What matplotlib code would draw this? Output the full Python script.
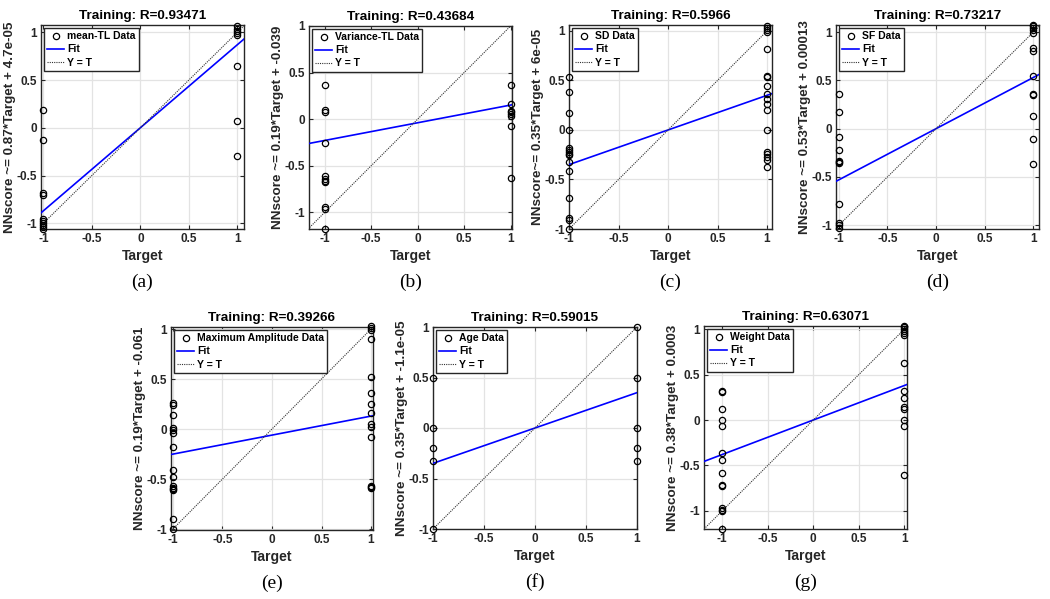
import matplotlib
matplotlib.use("Agg")
import matplotlib.pyplot as plt
import numpy as np

# ---------------- data ----------------
panel_labels = ["(a)", "(b)", "(c)", "(d)", "(e)", "(f)", "(g)"]
titles = ["Training: R=0.93471", "Training: R=0.43684", "Training: R=0.5966",
          "Training: R=0.73217", "Training: R=0.39266", "Training: R=0.59015",
          "Training: R=0.63071"]
ylabels = ["NNscore ~= 0.87*Target + 4.7e-05",
           "NNscore ~= 0.19*Target + -0.039",
           "NNscore~= 0.35*Target + 6e-05",
           "NNscore ~= 0.53*Target + 0.00013",
           "NNscore ~= 0.19*Target + -0.061",
           "NNscore ~= 0.35*Target + -1.1e-05",
           "NNscore ~= 0.38*Target + 0.0003"]
data_names = ["mean-TL Data", "Variance-TL Data", "SD Data", "SF Data",
              "Maximum Amplitude Data", "Age Data", "Weight Data"]
slopes = [0.87, 0.19, 0.35, 0.53, 0.19, 0.35, 0.38]
intercepts = [4.7e-05, -0.039, 6e-05, 0.00013, -0.061, -1.1e-05, 0.0003]

# outputs for target = -1 and target = +1
neg_a = [0.187, -0.127, -0.68, -0.70, -0.96, -0.98, -1.0, -1.02, -1.04, -1.06]
pos_a = [1.07, 1.04, 1.01, 0.99, 0.97, 0.65, 0.07, -0.30]
neg_b = [0.364, 0.095, 0.077, -0.257, -0.616, -0.64, -0.66, -0.68, -0.94, -0.96, -1.176]
pos_b = [0.364, 0.167, 0.09, 0.077, 0.06, 0.03, -0.077, -0.63]
neg_c = [0.538, 0.38, 0.167, 0.0, -0.187, -0.20, -0.22, -0.24, -0.25, -0.32, -0.41,
         -0.69, -0.885, -0.91, -1.0]
pos_c = [1.054, 1.03, 1.01, 0.99, 0.82, 0.545, 0.53, 0.447, 0.36, 0.31, 0.26, 0.2,
         0.0, -0.22, -0.245, -0.27, -0.30, -0.37]
neg_d = [0.362, 0.172, -0.086, -0.224, -0.33, -0.35, -0.36, -0.78, -0.98, -1.0, -1.03]
pos_d = [1.076, 1.06, 1.04, 1.02, 0.99, 0.84, 0.81, 0.55, 0.36, 0.35, 0.128, -0.107, -0.362]
neg_e = [0.262, 0.245, 0.145, 0.015, -0.01, -0.04, -0.18, -0.41, -0.48, -0.57, -0.59,
         -0.60, -0.61, -0.90, -1.0]
pos_e = [1.03, 1.01, 0.99, 0.9, 0.516, 0.36, 0.255, 0.16, 0.055, 0.02, -0.08,
         -0.566, -0.58, -0.59]
neg_f = [0.5, 0.0, -0.2, -0.33, -1.0]
pos_f = [1.0, 0.5, 0.0, -0.2, -0.33]
neg_g = [0.32, 0.31, 0.127, 0.0, -0.064, -0.365, -0.44, -0.585, -0.72, -0.73, -0.97,
         -0.99, -1.007, -1.2]
pos_g = [1.036, 1.02, 1.007, 0.985, 0.963, 0.94, 0.626, 0.325, 0.24, 0.14, 0.127,
         0.0, -0.064, -0.6]
neg_all = [neg_a, neg_b, neg_c, neg_d, neg_e, neg_f, neg_g]
pos_all = [pos_a, pos_b, pos_c, pos_d, pos_e, pos_f, pos_g]

# axis limits (x and y)
xlims = [(-1.024, 1.069), (-1.17, 1.015), (-1.0, 1.05), (-1.03, 1.06),
         (-1.02, 1.02), (-1.0, 1.0), (-1.2, 1.03)]
ylims = [(-1.06, 1.077), (-1.18, 1.0), (-1.0, 1.06), (-1.04, 1.075),
         (-1.01, 1.02), (-1.0, 1.0), (-1.2, 1.036)]
ticks = [-1, -0.5, 0, 0.5, 1]
tick_labels = ["-1", "-0.5", "0", "0.5", "1"]

# ---------------- layout (pixels: left, right, top, bottom) ----------------
W, H = 1050, 599
boxes = [(41, 244, 25, 229), (309, 512, 26, 229), (569, 772, 25, 229),
         (836, 1039, 25, 229), (171, 373, 327, 530), (433, 637, 327, 529),
         (704, 907, 326, 529)]

plt.rcParams['font.family'] = ['Liberation Sans', 'DejaVu Sans']
fig = plt.figure(figsize=(W / 100, H / 100), dpi=100)

for i in range(7):
    l, r, t, b = boxes[i]
    ax = fig.add_axes([l / W, (H - b) / H, (r - l) / W, (b - t) / H])
    x0, x1 = xlims[i]
    y0, y1 = ylims[i]
    ax.set_xticks(ticks)
    ax.set_xticklabels(tick_labels)
    ax.set_yticks(ticks)
    ax.set_yticklabels(tick_labels)
    ax.grid(True, color='#e3e3e3', linewidth=0.9)
    ax.set_axisbelow(True)
    for s in ax.spines.values():
        s.set_color('#262626')
        s.set_linewidth(1.0)
    ax.tick_params(direction='in', length=3, width=0.8, color='#262626',
                   top=True, right=True, labelsize=8.5, pad=3)
    for lab in ax.get_xticklabels() + ax.get_yticklabels():
        lab.set_fontweight('bold')
        lab.set_color('#262626')

    lo = min(x0, y0)
    hi = max(x1, y1)
    xs = [-1] * len(neg_all[i]) + [1] * len(pos_all[i])
    ys = list(neg_all[i]) + list(pos_all[i])
    ax.plot(xs, ys, 'o', mfc='none', mec='black', ms=4.5, mew=0.9,
            label=data_names[i], clip_on=False, zorder=4)
    fx = np.array([x0, x1])
    ax.plot(fx, slopes[i] * fx + intercepts[i], color='#0000ff', lw=1.2,
            label='Fit', zorder=3)
    ax.plot([lo, hi], [lo, hi], color='#333333', lw=0.8, ls=(0, (1, 1)),
            label='Y = T', zorder=3)
    ax.set_xlim(x0, x1)
    ax.set_ylim(y0, y1)

    leg = ax.legend(loc='upper left', fancybox=False, framealpha=1,
                    edgecolor='#262626', prop={'weight': 'bold', 'size': 7.5},
                    handlelength=1.6, handletextpad=0.3, borderpad=0.3,
                    labelspacing=0.3, borderaxespad=0.3)
    leg.get_frame().set_linewidth(1.0)

    ax.set_title(titles[i], fontsize=9.7, fontweight='bold', pad=4)
    ax.set_xlabel('Target', fontsize=10, fontweight='bold', labelpad=3,
                  color='#262626')
    ax.set_ylabel(ylabels[i], fontsize=9.7, fontweight='bold', labelpad=0,
                  color='#262626')
    cx = (l + r) / 2 / W
    cy = (H - (b + 53)) / H
    fig.text(cx, cy, panel_labels[i], ha='center', va='center',
             fontsize=14, family='Liberation Serif')

fig.savefig('out.png', dpi=100)
